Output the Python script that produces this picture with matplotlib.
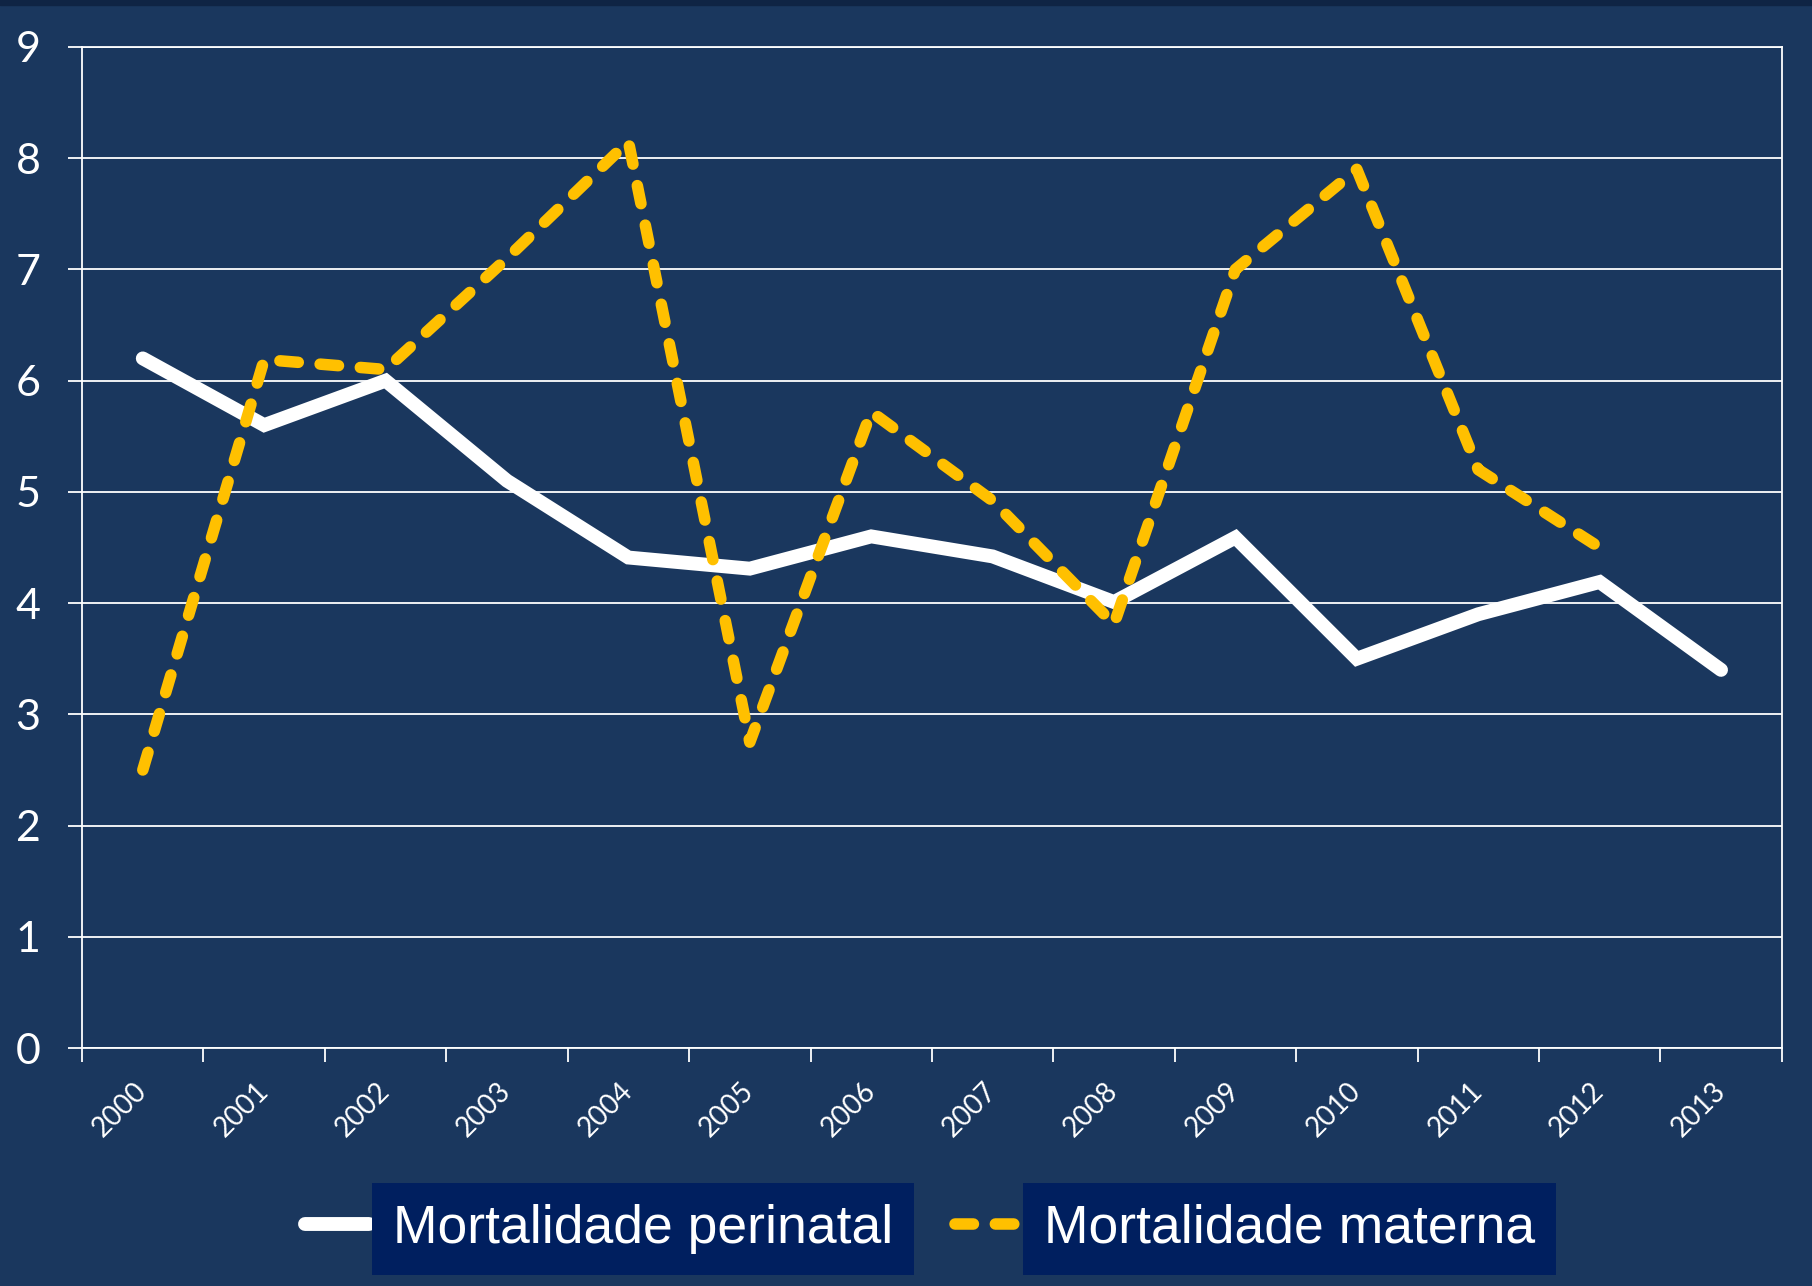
import matplotlib.pyplot as plt
from matplotlib.transforms import ScaledTranslation
import numpy as np

# Data
years = ["2000", "2001", "2002", "2003", "2004", "2005", "2006",
         "2007", "2008", "2009", "2010", "2011", "2012", "2013"]
perinatal = [6.2, 5.6, 6.0, 5.1, 4.41, 4.31, 4.6, 4.42, 4.01, 4.59, 3.5, 3.9, 4.19, 3.4]
materna = [2.5, 6.19, 6.1, 7.1, 8.15, 2.75, 5.72, 4.92, 3.81, 7.0, 7.9, 5.2, 4.5, np.nan]

label_perinatal = "Mortalidade perinatal"
label_materna = "Mortalidade materna"

bg = "#1a375e"
yellow = "#ffc000"
box = "#001f5f"

fig = plt.figure(figsize=(18.12, 12.86), dpi=100, facecolor=bg)
ax = fig.add_axes([0.0453, 0.185, 0.938, 0.7785])
ax.set_facecolor(bg)

x = np.arange(len(years)) + 0.5
ax.plot(x, perinatal, color="white", lw=10, solid_capstyle="round",
        solid_joinstyle="miter", label=label_perinatal, zorder=3)
ax.plot(x, materna, color=yellow, lw=8.3, dash_capstyle="round",
        dashes=(1.6, 1.9), label=label_materna, zorder=4)

ax.set_xlim(0, len(years))
ax.set_ylim(0, 9)
ax.set_yticks(range(10))
ax.yaxis.grid(True, color="white", lw=1.3)
ax.set_axisbelow(True)

ax.set_xticks(np.arange(len(years) + 1))
ax.set_xticklabels([])
ax.set_xticks(x, minor=True)
ax.set_xticklabels(years, minor=True, rotation=45, ha="right", va="center",
                   rotation_mode="anchor", color="white", fontsize=20, family="Lato")
shift = ScaledTranslation(0.07, 0, fig.dpi_scale_trans)
for lab in ax.get_xticklabels(minor=True):
    lab.set_transform(lab.get_transform() + shift)
ax.tick_params(axis="x", which="major", length=10, width=1.3, color="white")
ax.tick_params(axis="x", which="minor", length=0, pad=28)
ax.tick_params(axis="y", length=10, width=1.3, color="white", labelcolor="white",
               labelsize=31, pad=20)
for lab in ax.get_yticklabels():
    lab.set_family("Lato")

for s in ax.spines.values():
    s.set_color("white")
    s.set_linewidth(1.3)

leg = fig.legend(loc="center", bbox_to_anchor=(0.5076, 0.0445), ncol=2, frameon=False,
                 handlelength=1.2, handletextpad=0.45, columnspacing=1.16,
                 prop={"family": "Liberation Sans", "size": 38.5})
for t in leg.get_texts():
    t.set_color("white")
    t.set_bbox(dict(facecolor=box, edgecolor="none", pad=15))

# dark strip at top
fig.patches.append(plt.Rectangle((0, 0.9965), 1, 0.0035, transform=fig.transFigure,
                                 color="#0f2444", zorder=0))

fig.savefig("out.png", dpi=100, facecolor=bg)
